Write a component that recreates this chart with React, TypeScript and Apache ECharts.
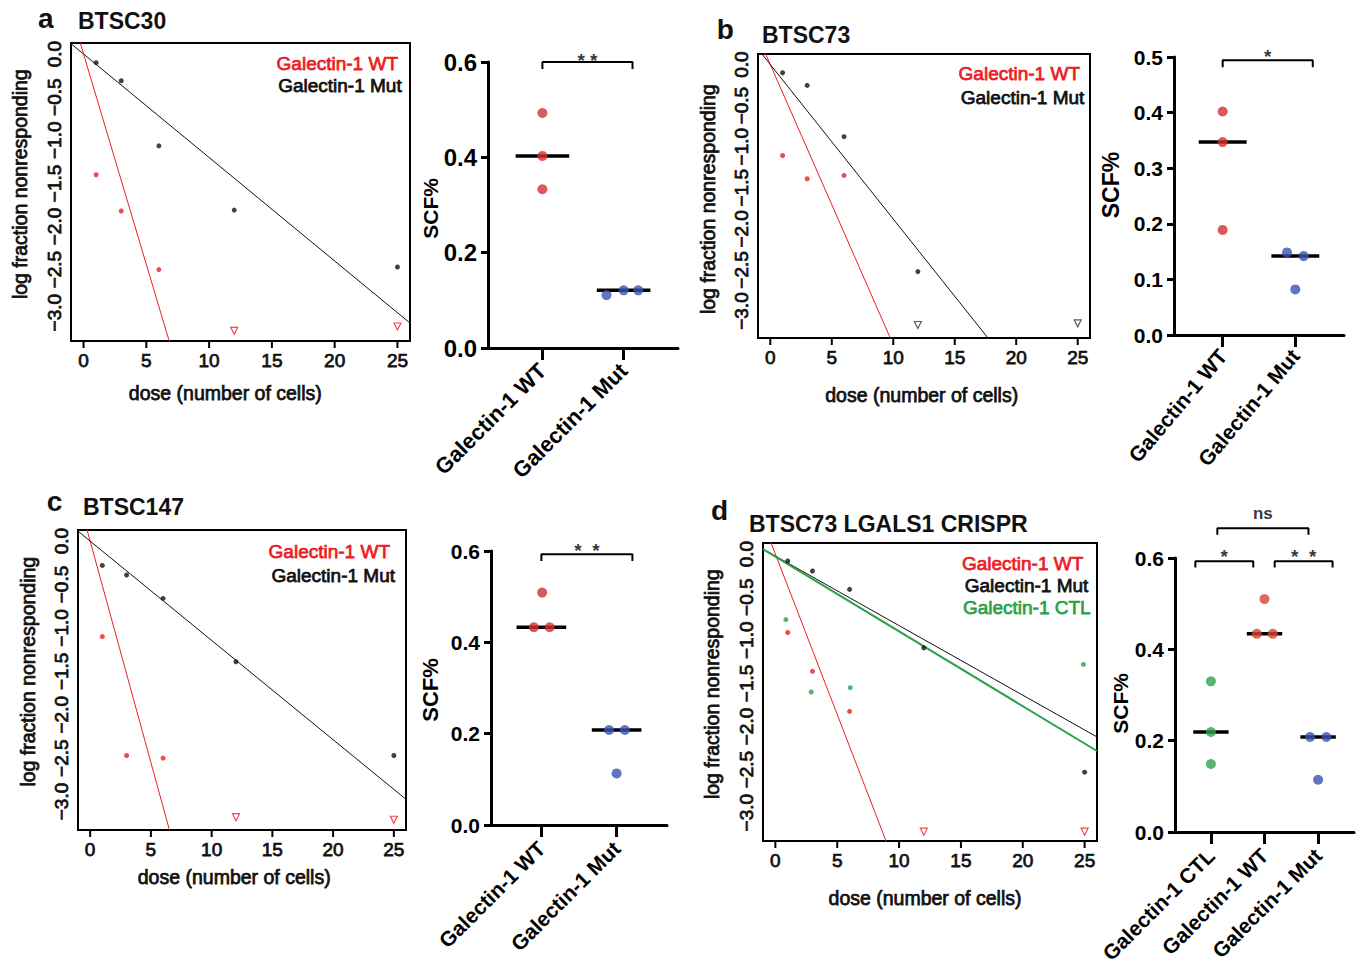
import React, { useEffect, useRef } from "react";
import * as echarts from "echarts";

const FONT = "'Liberation Sans', Arial, Helvetica, sans-serif";
const RED = "#ee1c24";
const BLACK = "#111111";
const GREEN = "#2ca04a";
const HEAVY = 0.75;

// ---------- limiting dilution (left) panels ----------
const doses = [1, 3, 6, 12, 25];
const censoredDoses = [12, 25];
const doseTicks = [0, 5, 10, 15, 20, 25];
const logTicks = [0, -0.5, -1, -1.5, -2, -2.5, -3];
const doseMin = -1;
const doseMax = 26;
const logMin = -3.328;
const logMax = 0.128;

// panel a (BTSC30)
const aWtLog = [-1.4, -1.82, -2.5];
const aMutLog = [-0.1, -0.31, -1.065, -1.81, -2.47];
const aWtCensoredLog = [-3.21, -3.16];
const aSlopes = [-0.488, -0.12]; // WT, Mut
const aIntercepts = [0, 0];

// panel b (BTSC73)
const bWtLog = [-1.107, -1.39, -1.35];
const bMutLog = [-0.1, -0.254, -0.878, -2.52];
const bCensoredLog = [-3.17, -3.15];
const bSlopes = [-0.341, -0.188];
const bIntercepts = [0, 0];

// panel c (BTSC147)
const cWtLog = [-1.1, -2.47, -2.5];
const cMutLog = [-0.28, -0.39, -0.66, -1.39, -2.47];
const cWtCensoredLog = [-3.18, -3.21];
const cSlopes = [-0.51, -0.1144];
const cIntercepts = [0, 0];

// panel d (BTSC73 LGALS1 CRISPR)
const dWtLog = [-0.91, -1.36, -1.825];
const dMutLog = [-0.081, -0.197, -0.41, -1.087, -2.53];
const dCtlDoses = [0.85, 2.9, 6.05, 24.9];
const dCtlLog = [-0.76, -1.6, -1.55, -1.28];
const dWtCensoredLog = [-3.22, -3.22];
const dSlopes = [-0.372, -0.0807, -0.0867]; // WT, Mut, CTL
const dIntercepts = [0, -0.023, -0.03];

// ---------- SCF% (right) panels ----------
const catsAB = ["Galectin-1 WT", "Galectin-1 Mut"];
const catsD = ["Galectin-1 CTL", "Galectin-1 WT", "Galectin-1 Mut"];

const aScfWt = [0.493, 0.403, 0.333];
const aScfWtJitter = [0, 0, 0];
const aScfMut = [0.111, 0.121, 0.121];
const aScfMutJitter = [-0.21, 0, 0.18];

const bScfWt = [0.402, 0.347, 0.189];
const bScfWtJitter = [0, 0, 0];
const bScfMut = [0.1485, 0.142, 0.082];
const bScfMutJitter = [-0.115, 0.115, 0];

const cScfWt = [0.509, 0.433, 0.433];
const cScfWtJitter = [0.01, -0.1, 0.11];
const cScfMut = [0.208, 0.208, 0.113];
const cScfMutJitter = [-0.1, 0.11, 0];

const dScfCtl = [0.33, 0.219, 0.149];
const dScfCtlJitter = [0, 0, 0];
const dScfWt = [0.51, 0.434, 0.434];
const dScfWtJitter = [0, -0.144, 0.155];
const dScfMut = [0.208, 0.208, 0.1145];
const dScfMutJitter = [-0.15, 0.155, 0];

// significance brackets
const aBracketFrom = [1];
const aBracketTo = [2.11];
const aBracketY = [0.6];
const aBracketText = ["* *"];
const bBracketFrom = [1];
const bBracketTo = [2.24];
const bBracketY = [0.494];
const bBracketText = ["*"];
const cBracketFrom = [1];
const cBracketTo = [2.21];
const cBracketY = [0.593];
const cBracketText = ["*  *"];
const dBracketFrom = [0.71, 2.19, 1.12];
const dBracketTo = [1.79, 3.27, 2.82];
const dBracketY = [0.593, 0.593, 0.665];
const dBracketText = ["*", "*  *", "ns"];

const SC_RED = "#d3312f";
const SC_BLUE = "#3b52b0";
const SC_GREEN = "#2ea44f";
const SC_ORANGE = "#d6452f";

const median = (v: number[]) => {
  const s = [...v].sort((p, q) => p - q);
  return s[Math.floor(s.length / 2)];
};

type LGroup = { name: string; color: string; doses: number[]; values: number[]; slope: number; intercept: number; width: number };

const TICK_PX = 7;

function tickSeries(gi: number, g: { width: number; height: number }) {
  const dy = (TICK_PX * (logMax - logMin)) / g.height;
  const dx = (TICK_PX * (doseMax - doseMin)) / g.width;
  const xData: any[] = [];
  doseTicks.forEach((t) => {
    xData.push([t, logMin], [t, logMin - dy], [t, "-"]);
  });
  const yData: any[] = [];
  logTicks.forEach((t) => {
    yData.push([doseMin, t], [doseMin - dx, t], ["-", t]);
  });
  const base = {
    type: "line",
    xAxisIndex: gi,
    yAxisIndex: gi,
    symbol: "none",
    showSymbol: false,
    clip: false,
    silent: true,
    connectNulls: false,
    lineStyle: { color: "#000", width: 2, cap: "butt" },
    z: 5,
  };
  return [
    { ...base, name: "x ticks", data: xData },
    { ...base, name: "y ticks", data: yData },
  ];
}

function ldaSeries(gi: number, g0: { width: number; height: number }, groups: LGroup[], censColor: string, censValues: number[]) {
  const out: any[] = [...tickSeries(gi, g0)];
  groups.forEach((g) => {
    out.push({
      type: "line",
      name: g.name + " fit",
      xAxisIndex: gi,
      yAxisIndex: gi,
      data: [doseMin, doseMax].map((x) => [x, g.intercept + g.slope * x]),
      symbol: "none",
      showSymbol: false,
      clip: true,
      silent: true,
      lineStyle: { color: g.color, width: g.width },
      z: 2,
    });
    out.push({
      type: "scatter",
      name: g.name,
      xAxisIndex: gi,
      yAxisIndex: gi,
      data: g.values.map((v, i) => [g.doses[i], v]),
      symbolSize: 5,
      itemStyle: { color: g.color },
      z: 3,
    });
  });
  out.push({
    type: "scatter",
    name: "censored",
    xAxisIndex: gi,
    yAxisIndex: gi,
    data: censValues.map((v, i) => [censoredDoses[i], v]),
    symbol: "triangle",
    symbolRotate: 180,
    symbolSize: 7,
    itemStyle: { color: "rgba(255,255,255,0)", borderColor: censColor, borderWidth: 1.2 },
    z: 3,
  });
  return out;
}

type SGroup = { name: string; color: string; values: number[]; jitter: number[] };

function scfSeries(gi: number, groups: SGroup[], bFrom: number[], bTo: number[], bY: number[], bText: string[], drop: number, textOffsets: number[]) {
  const out: any[] = [];
  groups.forEach((g, k) => {
    const m = median(g.values);
    out.push({
      type: "line",
      name: g.name + " median",
      xAxisIndex: gi,
      yAxisIndex: gi,
      data: [[k + 1 - 0.33, m], [k + 1 + 0.33, m]],
      symbol: "none",
      silent: true,
      lineStyle: { color: "#000", width: 3.5 },
      z: 2,
    });
    out.push({
      type: "scatter",
      name: g.name,
      xAxisIndex: gi,
      yAxisIndex: gi,
      data: g.values.map((v, i) => [k + 1 + g.jitter[i], v]),
      symbolSize: 10,
      itemStyle: { color: g.color },
      z: 3,
    });
  });
  bFrom.forEach((x1, i) => {
    const x2 = bTo[i];
    const y = bY[i];
    out.push({
      type: "line",
      name: "bracket " + i,
      xAxisIndex: gi,
      yAxisIndex: gi,
      data: [[x1, y - drop], [x1, y], [x2, y], [x2, y - drop]],
      symbol: "none",
      clip: false,
      silent: true,
      lineStyle: { color: "#000", width: 2 },
      z: 2,
    });
    out.push({
      type: "scatter",
      name: "sig " + i,
      xAxisIndex: gi,
      yAxisIndex: gi,
      data: [[(x1 + x2) / 2, y]],
      symbolSize: 1,
      clip: false,
      silent: true,
      itemStyle: { color: "rgba(0,0,0,0)" },
      label: {
        show: true,
        position: "inside",
        offset: [0, textOffsets[i]],
        formatter: bText[i],
        color: "#000",
        fontSize: bText[i] === "ns" ? 17 : 19,
        fontWeight: "bold",
        fontFamily: FONT,
      },
      z: 4,
    });
  });
  return out;
}

const leftGrids = [
  { left: 71, top: 43, width: 339, height: 298 },
  { left: 758, top: 54, width: 332, height: 284 },
  { left: 78, top: 530, width: 328, height: 300 },
  { left: 763, top: 543, width: 334, height: 298 },
];
const rightGrids = [
  { left: 488, top: 62, width: 190, height: 286 },
  { left: 1174, top: 57, width: 170, height: 278 },
  { left: 491, top: 551, width: 176, height: 274 },
  { left: 1175, top: 558, width: 179, height: 274 },
];
const rightYMax = [0.6, 0.5, 0.6, 0.6];
const rightYStep = [0.2, 0.1, 0.2, 0.2];
const rightCats = [catsAB, catsAB, catsAB, catsD];
const rightTickFont = [24, 21, 21, 21];
const rightCatFont = [22, 21, 21, 21];
const rightCatRotate = [45, 50, 45, 45];
const rightCatMargin = [19, 17, 20, 20];

function txt(text: string, x: number, y: number, size: number, o: any = {}) {
  const color = o.color || BLACK;
  return {
    type: "text",
    x,
    y,
    rotation: o.rot || 0,
    silent: true,
    z: 10,
    style: {
      text,
      fill: color,
      fontSize: size,
      fontWeight: o.bold ? "bold" : "normal",
      fontFamily: FONT,
      align: o.align || "center",
      verticalAlign: "middle",
      stroke: o.heavy ? color : undefined,
      lineWidth: o.heavy ? HEAVY : 0,
    },
  };
}

function buildOption() {
  const grid: any[] = [];
  const xAxis: any[] = [];
  const yAxis: any[] = [];
  const series: any[] = [];

  leftGrids.forEach((g) => {
    const gi = grid.length;
    grid.push({ ...g, show: true, borderColor: "#000", borderWidth: 2, backgroundColor: "rgba(255,255,255,0)", containLabel: false, outerBoundsMode: "none" });
    xAxis.push({
      type: "value",
      gridIndex: gi,
      position: "bottom",
      min: doseMin,
      max: doseMax,
      axisLine: { show: true, onZero: false, lineStyle: { color: "#000", width: 2 } },
      splitLine: { show: false },
      axisTick: { show: false },
      axisLabel: { show: true, customValues: doseTicks, margin: 10, fontSize: 19, color: BLACK, fontFamily: FONT, textBorderColor: BLACK, textBorderWidth: HEAVY },
    });
    yAxis.push({
      type: "value",
      gridIndex: gi,
      position: "left",
      min: logMin,
      max: logMax,
      axisLine: { show: true, onZero: false, lineStyle: { color: "#000", width: 2 } },
      splitLine: { show: false },
      axisTick: { show: false },
      axisLabel: {
        show: true,
        customValues: logTicks,
        rotate: 90,
        margin: 7,
        fontSize: 19,
        color: BLACK,
        fontFamily: FONT,
        textBorderColor: BLACK,
        textBorderWidth: HEAVY,
        formatter: (v: number) => (Math.abs(v) < 1e-9 ? "0.0" : "\u2212" + Math.abs(v).toFixed(1)),
      },
    });
  });

  rightGrids.forEach((g, r) => {
    const gi = grid.length;
    const cats = rightCats[r];
    const catTicks = cats.map((_, i) => i + 1);
    grid.push({ ...g, show: false, containLabel: false, outerBoundsMode: "none" });
    xAxis.push({
      type: "value",
      gridIndex: gi,
      position: "bottom",
      min: 0.33,
      max: cats.length + 0.67,
      splitLine: { show: false },
      axisLine: { show: true, onZero: false, lineStyle: { color: "#000", width: 3 } },
      axisTick: { show: true, customValues: catTicks, length: 12, lineStyle: { color: "#000", width: 3 } },
      axisLabel: {
        customValues: catTicks,
        formatter: (v: number) => cats[Math.round(v) - 1] || "",
        rotate: rightCatRotate[r],
        margin: rightCatMargin[r],
        fontSize: rightCatFont[r],
        fontWeight: "bold",
        color: "#000",
        fontFamily: FONT,
      },
    });
    yAxis.push({
      type: "value",
      gridIndex: gi,
      position: "left",
      min: 0,
      max: rightYMax[r],
      interval: rightYStep[r],
      splitLine: { show: false },
      axisLine: { show: true, onZero: false, lineStyle: { color: "#000", width: 3 } },
      axisTick: { show: true, length: 7, lineStyle: { color: "#000", width: 3 } },
      axisLabel: {
        margin: 11,
        fontSize: rightTickFont[r],
        fontWeight: "bold",
        color: "#000",
        fontFamily: FONT,
        formatter: (v: number) => v.toFixed(1),
      },
    });
  });

  // left panels
  series.push(
    ...ldaSeries(
      0,
      leftGrids[0],
      [
        { name: "Galectin-1 WT", color: RED, doses, values: aWtLog, slope: aSlopes[0], intercept: aIntercepts[0], width: 1 },
        { name: "Galectin-1 Mut", color: BLACK, doses, values: aMutLog, slope: aSlopes[1], intercept: aIntercepts[1], width: 1 },
      ],
      RED,
      aWtCensoredLog
    ),
    ...ldaSeries(
      1,
      leftGrids[1],
      [
        { name: "Galectin-1 WT", color: RED, doses, values: bWtLog, slope: bSlopes[0], intercept: bIntercepts[0], width: 1 },
        { name: "Galectin-1 Mut", color: BLACK, doses, values: bMutLog, slope: bSlopes[1], intercept: bIntercepts[1], width: 1 },
      ],
      "#333",
      bCensoredLog
    ),
    ...ldaSeries(
      2,
      leftGrids[2],
      [
        { name: "Galectin-1 WT", color: RED, doses, values: cWtLog, slope: cSlopes[0], intercept: cIntercepts[0], width: 1 },
        { name: "Galectin-1 Mut", color: BLACK, doses, values: cMutLog, slope: cSlopes[1], intercept: cIntercepts[1], width: 1 },
      ],
      RED,
      cWtCensoredLog
    ),
    ...ldaSeries(
      3,
      leftGrids[3],
      [
        { name: "Galectin-1 WT", color: RED, doses, values: dWtLog, slope: dSlopes[0], intercept: dIntercepts[0], width: 1 },
        { name: "Galectin-1 Mut", color: BLACK, doses, values: dMutLog, slope: dSlopes[1], intercept: dIntercepts[1], width: 1 },
        { name: "Galectin-1 CTL", color: GREEN, doses: dCtlDoses, values: dCtlLog, slope: dSlopes[2], intercept: dIntercepts[2], width: 2 },
      ],
      RED,
      dWtCensoredLog
    )
  );

  // right panels
  series.push(
    ...scfSeries(
      4,
      [
        { name: "Galectin-1 WT", color: SC_RED, values: aScfWt, jitter: aScfWtJitter },
        { name: "Galectin-1 Mut", color: SC_BLUE, values: aScfMut, jitter: aScfMutJitter },
      ],
      aBracketFrom, aBracketTo, aBracketY, aBracketText, 0.0147, [-2]
    ),
    ...scfSeries(
      5,
      [
        { name: "Galectin-1 WT", color: SC_RED, values: bScfWt, jitter: bScfWtJitter },
        { name: "Galectin-1 Mut", color: SC_BLUE, values: bScfMut, jitter: bScfMutJitter },
      ],
      bBracketFrom, bBracketTo, bBracketY, bBracketText, 0.0126, [-4]
    ),
    ...scfSeries(
      6,
      [
        { name: "Galectin-1 WT", color: SC_RED, values: cScfWt, jitter: cScfWtJitter },
        { name: "Galectin-1 Mut", color: SC_BLUE, values: cScfMut, jitter: cScfMutJitter },
      ],
      cBracketFrom, cBracketTo, cBracketY, cBracketText, 0.015, [-3.5]
    ),
    ...scfSeries(
      7,
      [
        { name: "Galectin-1 CTL", color: SC_GREEN, values: dScfCtl, jitter: dScfCtlJitter },
        { name: "Galectin-1 WT", color: SC_ORANGE, values: dScfWt, jitter: dScfWtJitter },
        { name: "Galectin-1 Mut", color: SC_BLUE, values: dScfMut, jitter: dScfMutJitter },
      ],
      dBracketFrom, dBracketTo, dBracketY, dBracketText, 0.014, [-4.5, -4.5, -14.5]
    )
  );

  const R90 = Math.PI / 2;
  const graphic: any[] = [
    // panel letters and titles
    txt("a", 38, 18.5, 28, { bold: true, align: "left" }),
    txt("BTSC30", 78, 21, 23, { bold: true, align: "left" }),
    txt("b", 716.7, 29.5, 28, { bold: true, align: "left" }),
    txt("BTSC73", 762, 35.3, 23, { bold: true, align: "left" }),
    txt("c", 46.7, 501, 28, { bold: true, align: "left" }),
    txt("BTSC147", 83, 507, 23, { bold: true, align: "left" }),
    txt("d", 711, 510.2, 28, { bold: true, align: "left" }),
    txt("BTSC73 LGALS1 CRISPR", 749, 523.7, 23, { bold: true, align: "left" }),
    // legends
    txt("Galectin-1 WT", 398, 63.3, 19, { color: RED, align: "right", heavy: true }),
    txt("Galectin-1 Mut", 401.7, 85, 19, { align: "right", heavy: true }),
    txt("Galectin-1 WT", 1080, 73.3, 19, { color: RED, align: "right", heavy: true }),
    txt("Galectin-1 Mut", 1084.3, 97.3, 19, { align: "right", heavy: true }),
    txt("Galectin-1 WT", 390, 551, 19, { color: RED, align: "right", heavy: true }),
    txt("Galectin-1 Mut", 395, 575, 19, { align: "right", heavy: true }),
    txt("Galectin-1 WT", 1083.3, 563.3, 19, { color: RED, align: "right", heavy: true }),
    txt("Galectin-1 Mut", 1088.3, 585.7, 19, { align: "right", heavy: true }),
    txt("Galectin-1 CTL", 1090.7, 607.3, 19, { color: GREEN, align: "right", heavy: true }),
    // axis names (left panels)
    txt("dose (number of cells)", 225.3, 393.3, 19.5, { heavy: true }),
    txt("dose (number of cells)", 921.7, 395, 19.5, { heavy: true }),
    txt("dose (number of cells)", 234.2, 876.7, 19.5, { heavy: true }),
    txt("dose (number of cells)", 925, 898.3, 19.5, { heavy: true }),
    txt("log fraction nonresponding", 20, 184.2, 19.5, { rot: R90, heavy: true }),
    txt("log fraction nonresponding", 708.3, 199.2, 19.5, { rot: R90, heavy: true }),
    txt("log fraction nonresponding", 28.3, 671.7, 19.5, { rot: R90, heavy: true }),
    txt("log fraction nonresponding", 711.7, 684.2, 19.5, { rot: R90, heavy: true }),
    // axis names (right panels)
    txt("SCF%", 430, 208.3, 21, { rot: R90, bold: true, color: "#000" }),
    txt("SCF%", 1110.7, 185, 23, { rot: R90, bold: true, color: "#000" }),
    txt("SCF%", 430, 690, 22, { rot: R90, bold: true, color: "#000" }),
    txt("SCF%", 1120, 703.3, 21, { rot: R90, bold: true, color: "#000" }),
  ];

  return {
    animation: false,
    backgroundColor: "#fff",
    textStyle: { fontFamily: FONT },
    grid,
    xAxis,
    yAxis,
    series,
    graphic,
  };
}

export default function App() {
  const ref = useRef<HTMLDivElement>(null);
  useEffect(() => {
    if (!ref.current) return;
    const chart = echarts.init(ref.current, undefined, { renderer: "svg" });
    chart.setOption(buildOption() as any);
    return () => chart.dispose();
  }, []);
  return (
    <div
      ref={ref}
      style={{ position: "absolute", left: 0, top: 0, width: 1365, height: 966, background: "#fff" }}
    />
  );
}
